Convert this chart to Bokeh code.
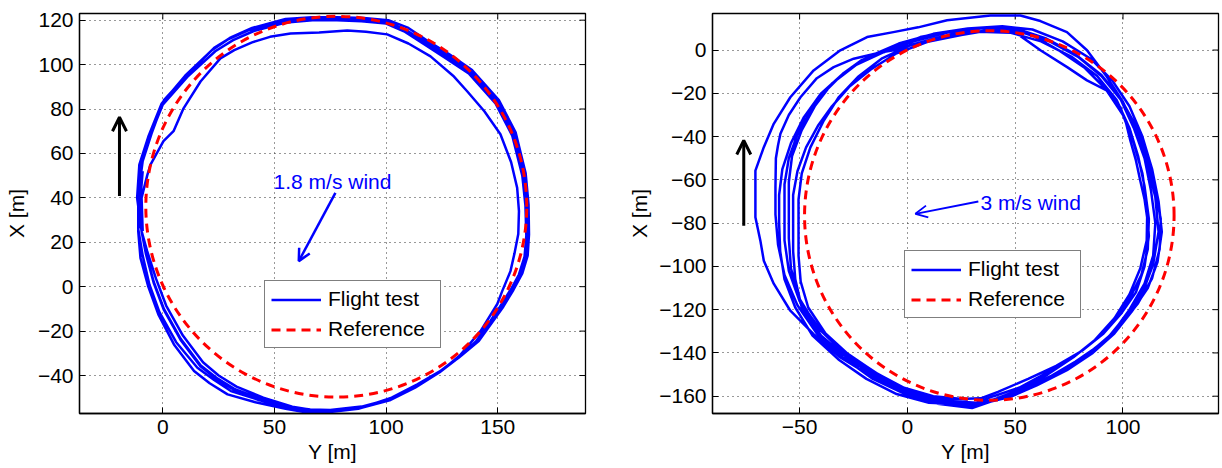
import numpy as np
from bokeh.plotting import figure
from bokeh.layouts import row
from bokeh.models import (Range1d, FixedTicker, Legend, LegendItem,
                          Label, Arrow, OpenHead)
from bokeh.embed import file_html
from bokeh.resources import INLINE

FONT = "Liberation Sans"
BLUE = "#0000ff"
RED = "#ff0000"

# ---------------- 1.8 m/s wind run ----------------
w1_ref_center_y = 77.7
w1_ref_center_x = 36.0
w1_ref_radius = 85.3

w1_lap1_y = [-9, -9.5, -7, -5.5, 0.3, 4.8, 9.3, 16.9, 25.8, 32, 40, 48, 57.2, 70, 82.6, 91, 100.5, 110, 119.9, 130,
             136.3, 144, 151.2, 156, 158.7, 159.5, 159.2, 157.5, 155.7, 152, 149.8, 142.3, 133, 124, 113, 102, 89, 77, 66, 57,
             44, 32, 24, 17, 8, 0.5, -4, -7.5, -9.5]
w1_lap1_x = [25, 40, 50, 55, 65.5, 70, 80.3, 92.4, 102.8, 106.5, 110, 112.5, 114, 114.5, 115.4, 114.8, 113.6, 109.5, 103.7, 95,
             88, 79, 68.6, 56, 44.5, 34, 23.7, 15, 7, -2, -7.8, -20, -31, -38.5, -45.5, -51, -54.5, -56, -55.8, -54.5,
             -51, -46.5, -41.5, -36, -24, -10.5, 1.5, 14.5, 25]
w1_lap2_y = [-10.5, -10, -6, 0, 10.5, 22.5, 30, 39, 54, 66, 78, 89, 100, 108, 117, 127, 137.5, 149.5, 157, 161.5,
             162.8, 163.2, 162.5, 160, 156, 151, 141, 133, 124, 113, 102, 89, 75, 66, 57, 44, 32, 24, 17, 8,
             0.5, -4, -7.5, -9.5]
w1_lap2_x = [41, 56, 68, 83, 95.5, 107, 112, 116, 120, 121, 121, 120.5, 119.5, 116, 110.5, 104, 97, 83.5, 69, 51,
             38, 24, 14, 6, -1, -9, -24, -31.5, -38.5, -45, -50.5, -54, -55.5, -55.3, -54, -50.5, -46, -41, -35.5, -23.5,
             -10, 2, 15, 25]
w1_lap3_y = [-11.5, -10.5, -6.5, -0.5, 10, 22, 29.5, 38.5, 54, 66, 78, 89.5, 100.5, 109, 117.5, 128, 138, 150, 157.5, 162,
             163.4, 163.8, 163, 160.5, 156.5, 152, 142, 134, 125, 114, 102.5, 89, 75, 65, 56, 43, 30.5, 23, 15.5, 6,
             -1.5, -6, -9, -11]
w1_lap3_x = [40, 55, 67.5, 82.5, 95, 106.5, 111.5, 115.5, 119.5, 120.5, 120.5, 120, 119, 115.5, 110, 103.5, 96.5, 83, 68.5, 50.5,
             37.5, 24, 14.5, 6.5, -1, -8, -23, -30.5, -37.5, -44, -50, -54.5, -56, -55.8, -54.5, -51, -47, -42, -36.5, -25,
             -11.5, 1, 14, 26]
w1_lap4_y = [-11, -9, -5, 0.5, 11.5, 23, 31, 40, 55, 67, 78, 90, 101, 110, 118, 128.5, 138.5, 150.5, 158, 162.5,
             163.8, 164, 163.4, 161, 157, 152.5, 141.5, 132.5, 123.5, 112.5, 101, 87.5, 74, 64, 55, 41.5, 29, 21, 14, 5,
             -2, -6.5, -10, -11]
w1_lap4_x = [41.5, 56.5, 69, 84, 96, 107.5, 112.5, 116.5, 120.5, 121.3, 121.3, 121, 120, 116.5, 111, 104.5, 97.5, 84, 69.5, 51,
             37, 23.5, 14, 6, -1.5, -9, -24.5, -32, -38.5, -45.5, -51, -55, -56.5, -56.6, -55, -52, -48.5, -43.5, -38, -26,
             -12.5, 0, 13, 25]
w1_lap5_y = [-10, -9.5, -6, 0, 11, 23.5, 31.5, 40.5, 55.5, 67, 78, 89, 100, 108, 116.5, 126.5, 137, 149, 156.5, 161,
             162.4, 162.8, 162, 159.5, 155.5, 150.5, 140, 131.5, 123, 112, 101, 88.5, 76, 67, 58, 45, 33, 25, 18, 9,
             1.5, -3, -7, -9.5, -10, -9]
w1_lap5_x = [40, 55, 67, 82, 94.5, 106, 111, 115, 119, 120, 120, 119.5, 118.5, 115, 109.5, 103, 96, 82.5, 68, 50,
             36.5, 23, 13.5, 5.5, -2, -10, -25, -32.5, -39, -45.5, -51, -54.5, -56, -55.5, -54, -50, -45, -40, -34, -22,
             -8.5, 3.5, 16, 25, 40, 52]

w1_xticks = [0, 50, 100, 150]
w1_yticks = [-40, -20, 0, 20, 40, 60, 80, 100, 120]
w1_wind_text = "1.8 m/s wind"

# ---------------- 3 m/s wind run ----------------
w3_ref_center_y = 38.0
w3_ref_center_x = -76.5
w3_ref_radius = 85.7

w3_lap1_y = [28, 12, -2, -15, -29, -41, -50, -55, -57, -57, -57, -55, -51, -45, -38, -30, -21, -9, 6, 22,
             40, 56, 70, 82, 92, 100, 105, 109, 111, 112, 110, 106, 99, 91, 81, 69, 56, 42]
w3_lap1_x = [-161.5, -160, -156, -149, -139.5, -128.5, -116, -102, -88, -75, -62, -50, -39, -28, -19, -11, -4.5, 0, 6, 9,
             10.5, 8, 0, -8, -18, -30, -43, -57, -71, -86, -100, -112, -122, -131, -139, -146, -152, -158]
w3_lap2_y = [34, 18, 2, -13, -27, -40, -49, -52, -53, -53, -53, -51, -47, -41.5, -35, -27, -17, -5, 10, 25,
             40, 50.9, 61.7, 74.1, 83.3, 92.6, 98.8, 101.5, 103.4, 106, 108, 110, 111.2, 111, 108, 103, 96, 87, 77, 65,
             52, 39]
w3_lap2_x = [-161, -161.5, -158, -152, -143, -132, -119, -106, -93, -80, -67, -56, -45, -35, -26, -17, -9, -1.5, 4, 7,
             9.5, 7.6, -0.1, -7.9, -14, -18.7, -26.4, -34, -41.8, -51, -60.3, -69, -77.3, -88, -101, -113, -124, -134, -142, -150,
             -157, -162]
w3_lap3_y = [30, 15, 0, -14, -27, -38, -46, -49.5, -50.5, -50.5, -50.5, -49, -45, -39, -32, -23, -12, 2, 17, 33,
             48, 62, 76, 88, 97, 103, 107, 110, 112, 111.5, 108.5, 103, 96, 87, 77, 65, 52, 40]
w3_lap3_x = [-164.5, -162.5, -157, -149.5, -141, -131, -119, -107, -95, -82, -69, -57, -45, -33, -22, -12.5, -4, 2.5, 6.5, 8.5,
             8, 4, -3, -12, -23, -36, -49, -63, -78, -92, -104, -115, -125, -134, -142, -149, -156, -160]
w3_lap4_y = [32, 16, -0.1, -15.6, -31.1, -43.5, -54.3, -62, -66.6, -68.2, -70.5, -70.5, -70.5, -66.6, -62, -54.3, -43.5, -31.1, -18.7, -6.5,
             5, 18.4, 38.5, 52.4, 61.7, 74, 83.3, 92.6, 100, 106, 111, 115, 116.5, 114, 109.5, 102, 93, 83, 71, 58, 45]
w3_lap4_x = [-163, -162, -158.3, -151.4, -142.1, -131.3, -120.5, -108, -97.4, -88.1, -77.3, -66, -55.7, -44.9, -34.1, -21.8, -9.4, -0.1, 6, 8.3,
             10.5, 13.8, 16, 16, 13.4, 8.3, -0.1, -12.5, -24, -37, -52, -68, -84, -99, -111, -122, -133, -141, -149, -155, -161]
w3_lap5_y = [28, 13, -2, -17, -30, -42, -50, -54, -55, -55, -55, -53.5, -49, -43, -35, -24, -11, 3, 18, 34,
             50, 64, 78, 90, 99, 106, 111, 114.5, 117.5, 117, 113.5, 107, 99, 89, 78, 66, 53, 40]
w3_lap5_x = [-165, -163, -157.5, -149, -139.5, -128, -115, -101, -87, -74, -61, -49, -37, -26, -15.5, -7, -1, 4, 8, 10,
             10, 5.5, -2, -11.5, -22.5, -35, -48.5, -63, -78, -92, -105.5, -117, -127, -136.5, -144, -151, -157, -162]
w3_lap6_y = [30, 14, -1, -16, -30, -42, -51, -57, -60, -61.2, -61.2, -61, -60, -58.9, -55, -49.6, -42, -34.2, -24.9, -12,
             -6.4, 8, 22, 38, 52, 66, 79, 90, 99, 105, 110, 113, 115, 114, 110, 103, 95, 85, 73, 60, 46]
w3_lap6_x = [-165.5, -163.5, -159, -152, -142, -131, -118, -104, -90, -76, -63.4, -50, -44, -38.7, -30, -21.8, -13, -7.9, -4, -1,
             -0.1, 4, 7.5, 9, 8.5, 4, -3, -12, -23, -36, -50, -65, -80, -95, -108, -120, -131, -139.5, -147.5, -154, -160]
w3_lap7_y = [30, 10, -5, -19, -32, -44, -52, -57, -59, -59.5, -59.5, -58, -54, -48, -40, -30, -18, -4, 12, 28,
             44, 58, 72, 85, 95, 103, 109, 113.5, 116.5, 118, 116, 111.5, 104, 96, 86, 74, 60, 45]
w3_lap7_x = [-164, -163, -159, -152, -143, -132, -119, -106, -93, -80, -67, -55, -43, -31, -20, -11, -3, 3, 7.5, 10,
             11, 9.5, 4, -4, -14, -26, -40, -55, -70, -84, -98, -110, -121, -131, -140, -148, -155, -161.5]

w3_xticks = [-50, 0, 50, 100]
w3_yticks = [-160, -140, -120, -100, -80, -60, -40, -20, 0]
w3_wind_text = "3 m/s wind"

legend_labels = ["Flight test", "Reference"]
x_label = "Y [m]"
y_label = "X [m]"


def tick_labels(ticks):
    return {t: str(t).replace("-", "\u2212") for t in ticks}


def make_panel(width, border_left, border_right, xr, yr, xticks, yticks, ylab_standoff):
    p = figure(width=width, height=468, output_backend="svg", toolbar_location=None,
               x_range=Range1d(*xr), y_range=Range1d(*yr),
               min_border_left=border_left, min_border_right=border_right,
               min_border_top=13, min_border_bottom=55,
               background_fill_color="white", border_fill_color="white")
    p.outline_line_color = "black"
    p.outline_line_width = 1.3
    xt = FixedTicker(ticks=xticks)
    yt = FixedTicker(ticks=yticks)
    p.xaxis.ticker = xt
    p.yaxis.ticker = yt
    p.xaxis.major_label_overrides = tick_labels(xticks)
    p.yaxis.major_label_overrides = tick_labels(yticks)
    p.xaxis.axis_label = x_label
    p.yaxis.axis_label = y_label
    for ax in (p.xaxis, p.yaxis):
        ax.axis_label_text_font = FONT
        ax.axis_label_text_font_size = "21px"
        ax.axis_label_text_font_style = "normal"
        ax.axis_label_text_color = "black"
        ax.major_label_text_font = FONT
        ax.major_label_text_font_size = "21px"
        ax.major_label_text_color = "black"
        ax.major_tick_in = 6
        ax.major_tick_out = 0
        ax.minor_tick_in = 0
        ax.minor_tick_out = 0
        ax.axis_line_color = "black"
        ax.axis_line_width = 1.3
        ax.major_tick_line_color = "black"
        ax.major_label_standoff = 6
    p.xaxis.axis_label_standoff = 3
    p.yaxis.axis_label_standoff = ylab_standoff
    p.xgrid.ticker = xt
    p.ygrid.ticker = yt
    for g in (p.xgrid, p.ygrid):
        g.grid_line_color = "#333333"
        g.grid_line_dash = "1 4"
        g.grid_line_width = 1
    # inward tick marks on the top and right edges of the box (half of each dash is clipped)
    p.scatter(x=xticks, y=[yr[1]] * len(xticks), marker="dash", angle=np.pi / 2, size=12,
              line_color="black", line_width=1)
    p.scatter(x=[xr[1]] * len(yticks), y=yticks, marker="dash", size=12,
              line_color="black", line_width=1)
    return p


def add_content(p, laps, ref_y, ref_x, ref_r, legend_loc):
    fy = np.concatenate([np.asarray(a[0], dtype=float) for a in laps])
    fx = np.concatenate([np.asarray(a[1], dtype=float) for a in laps])
    flight = p.line(fy, fx, line_color=BLUE, line_width=2.5, line_join="round")
    ref = p.arc(x=[ref_y], y=[ref_x], radius=ref_r, start_angle=0, end_angle=2 * np.pi,
                line_color=RED, line_width=3, line_dash="9 6")
    legend = Legend(items=[LegendItem(label=legend_labels[0], renderers=[flight]),
                           LegendItem(label=legend_labels[1], renderers=[ref])],
                    location=legend_loc)
    legend.label_text_font = FONT
    legend.label_text_font_size = "21px"
    legend.label_text_color = "black"
    legend.glyph_width = 50
    legend.glyph_height = 23
    legend.label_height = 23
    legend.label_width = 106
    legend.label_standoff = 7
    legend.spacing = 6
    legend.padding = 6
    legend.margin = 0
    legend.border_line_color = "black"
    legend.border_line_width = 1.3
    legend.background_fill_color = "white"
    legend.background_fill_alpha = 1
    p.add_layout(legend)


# left panel
p1 = make_panel(610, 79, 25, (-37.3, 189.3), (-57.1, 123.0), w1_xticks, w1_yticks, 7)
add_content(p1, [(w1_lap1_y, w1_lap1_x), (w1_lap2_y, w1_lap2_x), (w1_lap3_y, w1_lap3_x),
                 (w1_lap4_y, w1_lap4_x), (w1_lap5_y, w1_lap5_x)],
            w1_ref_center_y, w1_ref_center_x, w1_ref_radius, (185, 65))
p1.add_layout(Label(x=49.6, y=47.5, text=w1_wind_text, text_font=FONT, text_font_size="21px",
                    text_color=BLUE, text_baseline="middle", text_align="left"))
p1.add_layout(Arrow(end=OpenHead(size=12, line_color=BLUE, line_width=2.5),
                    x_start=77.3, y_start=42.2, x_end=60.9, y_end=11.5,
                    line_color=BLUE, line_width=2.5))
p1.add_layout(Arrow(end=OpenHead(size=14, line_color="black", line_width=3),
                    x_start=-19.4, y_start=40.8, x_end=-19.4, y_end=76.3,
                    line_color="black", line_width=3))

# right panel
p2 = make_panel(612, 102, 4, (-90.4, 144.3), (-168.0, 16.9), w3_xticks, w3_yticks, 5)
add_content(p2, [(w3_lap1_y, w3_lap1_x), (w3_lap2_y, w3_lap2_x), (w3_lap3_y, w3_lap3_x),
                 (w3_lap4_y, w3_lap4_x), (w3_lap5_y, w3_lap5_x), (w3_lap6_y, w3_lap6_x),
                 (w3_lap7_y, w3_lap7_x)],
            w3_ref_center_y, w3_ref_center_x, w3_ref_radius, (192, 95))
p2.add_layout(Label(x=33.9, y=-70.4, text=w3_wind_text, text_font=FONT, text_font_size="21px",
                    text_color=BLUE, text_baseline="middle", text_align="left"))
p2.add_layout(Arrow(end=OpenHead(size=12, line_color=BLUE, line_width=1.8),
                    x_start=32.9, y_start=-70.0, x_end=3.7, y_end=-75.7,
                    line_color=BLUE, line_width=1.8))
p2.add_layout(Arrow(end=OpenHead(size=14, line_color="black", line_width=3),
                    x_start=-75.9, y_start=-81.2, x_end=-75.9, y_end=-41.8,
                    line_color="black", line_width=3))

layout = row(p1, p2)
open("out.html", "w").write(file_html(layout, INLINE))
